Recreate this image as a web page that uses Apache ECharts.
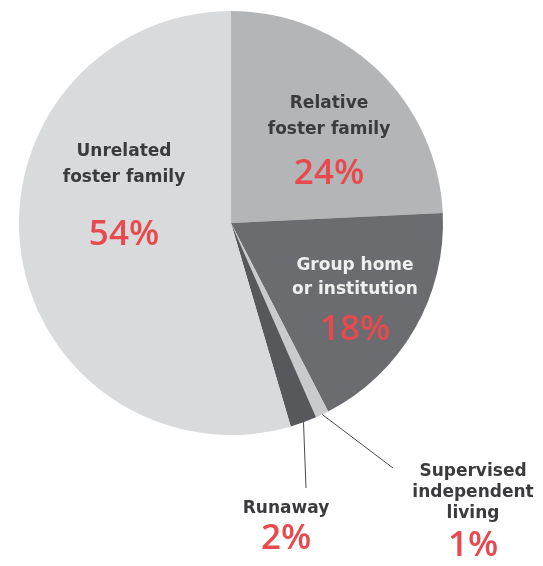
<!DOCTYPE html>
<html>
<head>
<meta charset="utf-8">
<script src="https://cdn.jsdelivr.net/npm/echarts@6/dist/echarts.min.js"></script>
<style>
  html, body { margin: 0; padding: 0; background: #ffffff; }
  #pieChart { width: 543px; height: 566px; }
</style>
</head>
<body>
<div id="pieChart"></div>
<script>
  // placement of children leaving foster care (percent)
  var names = ['Relative\nfoster family', 'Group home\nor institution', 'Supervised\nindependent\nliving', 'Runaway', 'Unrelated\nfoster family'];
  var values = [24, 18, 1, 2, 54];
  var pctLabels = ['24%', '18%', '1%', '2%', '54%'];

  var sliceColors = ['#b4b5b7', '#6b6c6f', '#c9cacc', '#57585b', '#d9dadc'];
  var nameColors = ['#3b3b3d', '#f0f0f0', '#3b3b3d', '#3b3b3d', '#3b3b3d'];
  // label block: center x, top y, name line height, percent line height
  var labelX = [329, 355, 473, 286, 124];
  var labelTop = [91, 254, 461, 496, 139];
  var nameLH = [26, 24, 21, 26, 26];
  var pctLH = [62, 56, 45, 34, 88];
  var outside = [false, false, true, true, false];
  // where the leader lines of the outside labels end
  var lineEnd = [null, null, [393, 468], [306, 488], null];

  var chart = echarts.init(document.getElementById('pieChart'));

  var seriesData = [];
  for (var i = 0; i < values.length; i++) {
    seriesData.push({
      name: names[i],
      value: values[i],
      itemStyle: { color: sliceColors[i] },
      label: {
        position: outside[i] ? 'outside' : 'inside',
        formatter: names[i] + '\n{p|' + pctLabels[i] + '}',
        color: nameColors[i],
        lineHeight: nameLH[i],
        rich: {
          p: {
            fontFamily: 'Open Sans',
            fontWeight: 600,
            fontSize: 35,
            color: '#e8494e',
            lineHeight: pctLH[i]
          }
        }
      },
      labelLine: { show: outside[i] }
    });
  }

  var option = {
    backgroundColor: '#ffffff',
    animation: false,
    series: [
      {
        type: 'pie',
        center: [231, 223],
        radius: 212,
        startAngle: 90,
        clockwise: true,
        avoidLabelOverlap: false,
        itemStyle: { borderWidth: 0 },
        emphasis: { disabled: true },
        label: {
          show: true,
          fontFamily: 'DejaVu Sans',
          fontWeight: 'bold',
          fontSize: 17,
          align: 'center'
        },
        labelLine: {
          length: 10,
          length2: 0,
          lineStyle: { color: '#4a4a4c', width: 1 }
        },
        labelLayout: function (params) {
          var i = params.dataIndex;
          var res = {
            x: labelX[i],
            y: labelTop[i],
            align: 'center',
            verticalAlign: 'top'
          };
          if (lineEnd[i] && params.labelLinePoints) {
            var start = params.labelLinePoints[0];
            res.labelLinePoints = [start, lineEnd[i], lineEnd[i]];
          }
          return res;
        },
        data: seriesData
      }
    ]
  };

  chart.setOption(option);
</script>
</body>
</html>
